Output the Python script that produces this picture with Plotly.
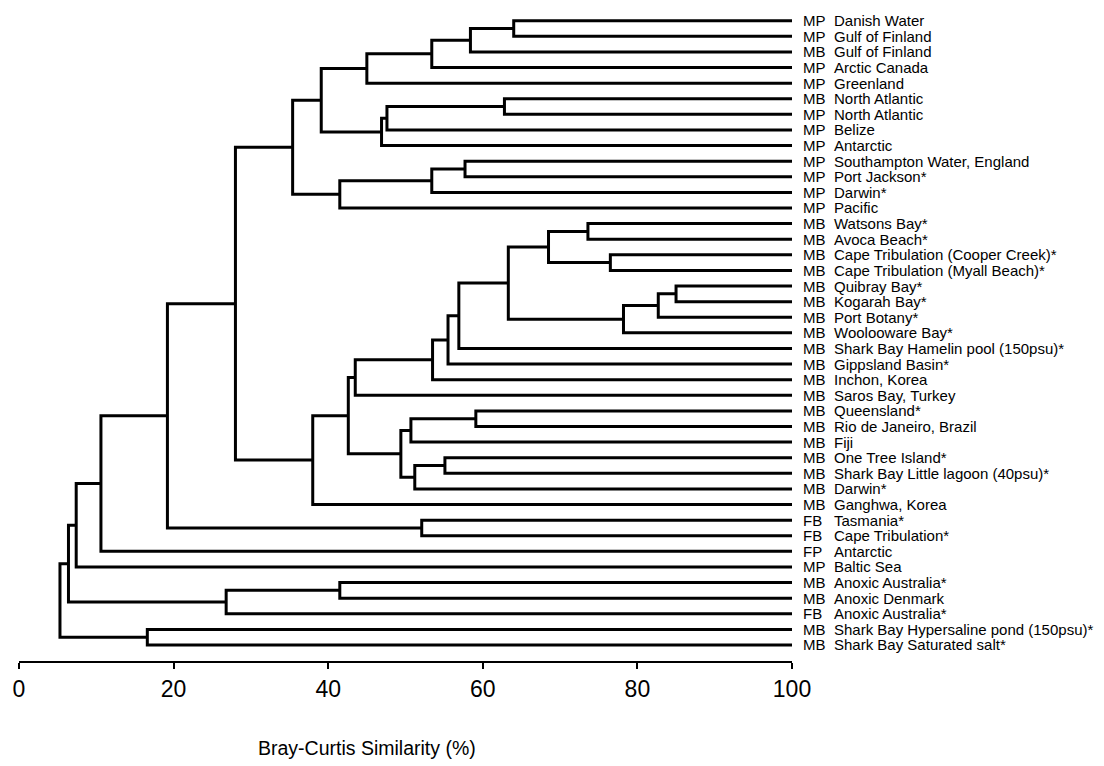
import plotly.graph_objects as go

# ---- data ----
codes = ["MP", "MP", "MB", "MP", "MP", "MB", "MP", "MP", "MP", "MP", "MP", "MP", "MP",
         "MB", "MB", "MB", "MB", "MB", "MB", "MB", "MB", "MB", "MB", "MB", "MB", "MB",
         "MB", "MB", "MB", "MB", "MB", "MB", "FB", "FB", "FP", "MP", "MB", "MB", "FB",
         "MB", "MB"]
names = ["Danish Water", "Gulf of Finland", "Gulf of Finland", "Arctic Canada", "Greenland",
         "North Atlantic", "North Atlantic", "Belize", "Antarctic",
         "Southampton Water, England", "Port Jackson*", "Darwin*", "Pacific",
         "Watsons Bay*", "Avoca Beach*", "Cape Tribulation (Cooper Creek)*",
         "Cape Tribulation (Myall Beach)*", "Quibray Bay*", "Kogarah Bay*", "Port Botany*",
         "Woolooware Bay*", "Shark Bay Hamelin pool (150psu)*", "Gippsland Basin*",
         "Inchon, Korea", "Saros Bay, Turkey", "Queensland*", "Rio de Janeiro, Brazil",
         "Fiji", "One Tree Island*", "Shark Bay Little lagoon (40psu)*", "Darwin*",
         "Ganghwa, Korea", "Tasmania*", "Cape Tribulation*", "Antarctic", "Baltic Sea",
         "Anoxic Australia*", "Anoxic Denmark", "Anoxic Australia*",
         "Shark Bay Hypersaline pond (150psu)*", "Shark Bay Saturated salt*"]

# merges: node ids 41.. ; children refer to leaf index (0-40) or earlier merge id
merge_a = [0, 41, 42, 43, 5, 45, 46, 44, 9, 49, 50, 48,
           13, 15, 53, 17, 56, 57, 55, 59, 60, 61, 62,
           25, 64, 28, 66, 65, 63, 69, 52, 32, 71, 73, 74,
           36, 76, 75, 39, 78]
merge_b = [1, 2, 3, 4, 6, 7, 8, 47, 10, 11, 12, 51,
           14, 16, 54, 18, 19, 20, 58, 21, 22, 23, 24,
           26, 27, 29, 30, 67, 68, 31, 70, 33, 72, 34, 35,
           37, 38, 77, 40, 79]
merge_sim = [64.0, 58.4, 53.4, 45.0, 62.8, 47.6, 46.9, 39.1, 57.7, 53.4, 41.5, 35.4,
             73.6, 76.5, 68.5, 85.0, 82.7, 78.2, 63.3, 56.9, 55.5, 53.5, 43.5,
             59.1, 50.7, 55.1, 51.2, 49.4, 42.6, 38.0, 28.0, 52.1, 19.2, 10.6, 7.4,
             41.5, 26.8, 6.4, 16.6, 5.3]

x_ticks = [0, 20, 40, 60, 80, 100]
x_title = "Bray-Curtis Similarity (%)"

# ---- build dendrogram segments ----
n = len(names)
pos_y = {i: float(i) for i in range(n)}
pos_x = {i: 100.0 for i in range(n)}
xs, ys = [], []
for k, (a, b, s) in enumerate(zip(merge_a, merge_b, merge_sim)):
    node = n + k
    ya, yb = pos_y[a], pos_y[b]
    xs += [pos_x[a], s, s, pos_x[b], None]
    ys += [ya, ya, yb, yb, None]
    pos_y[node] = (ya + yb) / 2
    pos_x[node] = s

fig = go.Figure()
fig.add_trace(go.Scatter(x=xs, y=ys, mode="lines",
                         line=dict(color="black", width=3),
                         hoverinfo="skip", showlegend=False))

# ---- layout (pixel geometry, page body has an 8px margin) ----
OFF = 8
W, H = 1104 - OFF, 766 - OFF
left_px, right_px = 19 - OFF, 791.7 - OFF
top_px, bottom_px = 0, 660.7 - OFF
leaf0_px, leaf_step = 20.7 - OFF, 15.6
y_top = (top_px - leaf0_px) / leaf_step
y_bot = (bottom_px - leaf0_px) / leaf_step

FONT = "Liberation Sans, Arial, Helvetica, sans-serif"

annotations = []
for i in range(n):
    annotations.append(dict(x=100, y=i, xref="x", yref="y", text=codes[i],
                            showarrow=False, xanchor="left", yanchor="middle",
                            xshift=9, font=dict(family=FONT, size=15, color="black")))
    annotations.append(dict(x=100, y=i, xref="x", yref="y", text=names[i],
                            showarrow=False, xanchor="left", yanchor="middle",
                            xshift=40, font=dict(family=FONT, size=15, color="black")))

plot_w = right_px - left_px
plot_h = bottom_px - top_px
annotations.append(dict(x=(367 - OFF - left_px) / plot_w,
                        y=(bottom_px - (748 - OFF)) / plot_h,
                        xref="paper", yref="paper", text=x_title, showarrow=False,
                        xanchor="center", yanchor="middle",
                        font=dict(family=FONT, size=19.5, color="black")))

fig.update_layout(
    width=W, height=H,
    margin=dict(l=left_px, r=W - right_px, t=top_px, b=H - bottom_px, pad=0),
    plot_bgcolor="white", paper_bgcolor="white",
    showlegend=False,
    annotations=annotations,
    xaxis=dict(range=[0, 100], tickvals=x_ticks, ticktext=[str(t) for t in x_ticks],
               showline=True, linecolor="black", linewidth=2,
               ticks="outside", ticklen=6, tickwidth=2, tickcolor="black",
               showgrid=False, zeroline=False,
               tickfont=dict(family=FONT, size=23, color="black")),
    yaxis=dict(range=[y_bot, y_top], visible=False, showgrid=False, zeroline=False),
)

fig.write_html("out.html")
